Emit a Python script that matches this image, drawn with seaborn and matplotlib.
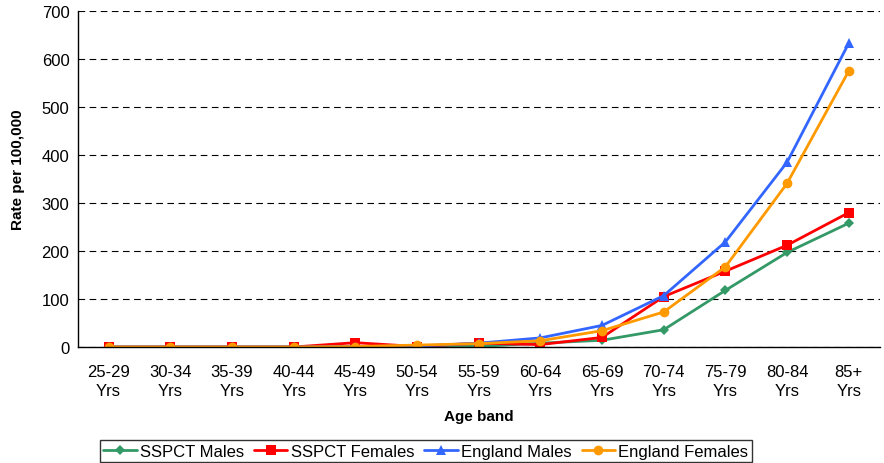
import pandas as pd
import matplotlib
matplotlib.use('Agg')
import matplotlib.pyplot as plt
import seaborn as sns

age_bands = ['25-29\nYrs', '30-34\nYrs', '35-39\nYrs', '40-44\nYrs', '45-49\nYrs',
             '50-54\nYrs', '55-59\nYrs', '60-64\nYrs', '65-69\nYrs', '70-74\nYrs',
             '75-79\nYrs', '80-84\nYrs', '85+\nYrs']
sspct_males = [0, 0, 0, 0, 0, 3, 1, 8, 14, 36, 118, 197, 258]
sspct_females = [0, 0, 0, 0, 9, 1, 8, 5, 20, 105, 158, 212, 280]
england_males = [0, 0, 0, 0, 1, 2, 8, 19, 45, 107, 219, 385, 633]
england_females = [0, 0, 0, 0, 1, 4, 7, 13, 34, 73, 167, 341, 575]

series = {
    'SSPCT Males': sspct_males,
    'SSPCT Females': sspct_females,
    'England Males': england_males,
    'England Females': england_females,
}
rows = []
for name, vals in series.items():
    for i, v in enumerate(vals):
        rows.append({'pos': i, 'Rate': v, 'Series': name})
df = pd.DataFrame(rows)

sns.set_style('white')
plt.rcParams['font.family'] = ['Liberation Sans', 'DejaVu Sans']
plt.rcParams['text.color'] = 'black'
plt.rcParams['axes.labelcolor'] = 'black'
plt.rcParams['xtick.color'] = 'black'
plt.rcParams['ytick.color'] = 'black'

fig = plt.figure(figsize=(8.84, 4.64), dpi=100)
ax = fig.add_axes([0.088, 0.25, 0.907, 0.724])

palette = {'SSPCT Males': '#339966', 'SSPCT Females': '#FF0000',
           'England Males': '#3366FF', 'England Females': '#FF9900'}
markers = {'SSPCT Males': 'D', 'SSPCT Females': 's',
           'England Males': '^', 'England Females': 'o'}
sizes = {'SSPCT Males': 5, 'SSPCT Females': 7, 'England Males': 7, 'England Females': 7}

for name in series:
    d = df[df['Series'] == name]
    sns.lineplot(data=d, x='pos', y='Rate', color=palette[name], marker=markers[name],
                 markersize=sizes[name], markeredgewidth=0, linewidth=2, label=name, ax=ax)

ax.set_xlim(-0.5, 12.5)
ax.set_ylim(0, 700)
ax.set_yticks(range(0, 701, 100))
ax.set_xticks(range(13))
ax.set_xticklabels(age_bands, fontsize=12, linespacing=1.35)
ax.set_xticks([i - 0.5 for i in range(14)], minor=True)
ax.tick_params(axis='x', which='major', length=0, pad=12)
ax.tick_params(axis='x', which='minor', length=5, width=1, direction='out')
ax.tick_params(axis='y', length=8, width=1, direction='inout', labelsize=12, pad=2)

ax.yaxis.grid(True, linestyle=(0, (6, 4)), color='black', linewidth=0.8)
ax.set_axisbelow(True)
for s in ['top', 'right']:
    ax.spines[s].set_visible(False)
for s in ['left', 'bottom']:
    ax.spines[s].set_color('black')
    ax.spines[s].set_linewidth(1)

ax.set_ylabel('Rate per 100,000', fontsize=11, fontweight='bold')
ax.yaxis.set_label_coords(-0.066, 0.53)
ax.set_xlabel('Age band', fontsize=11, fontweight='bold', labelpad=8)

leg = ax.legend(loc='center', bbox_to_anchor=(0.434, -0.31), ncol=4, frameon=True,
                fancybox=False, edgecolor='black', fontsize=12, handlelength=2,
                handletextpad=0.2, columnspacing=0.6, borderpad=0.2)
leg.get_frame().set_linewidth(1)

fig.savefig('out.png', dpi=100)
